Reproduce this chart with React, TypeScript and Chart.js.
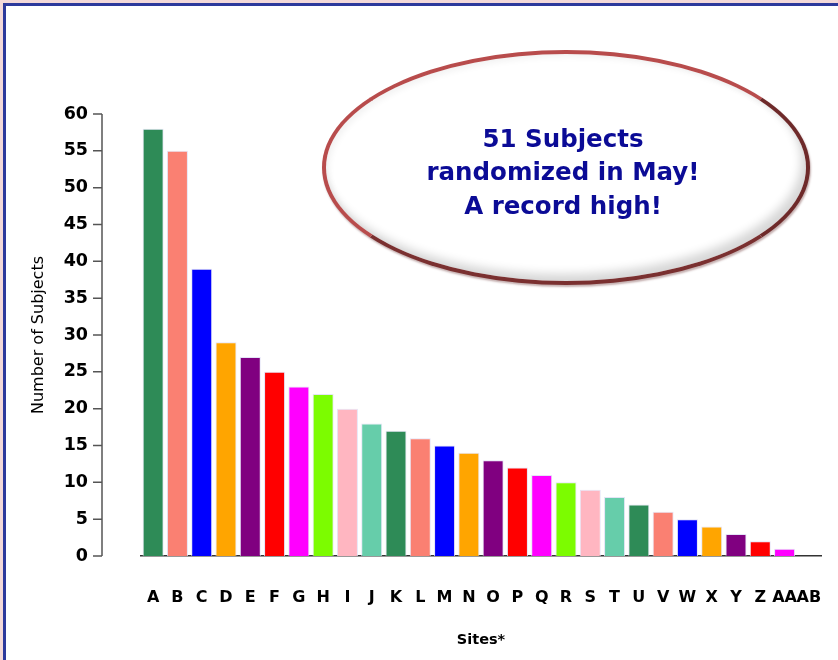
import React, { useEffect, useRef } from "react";
import { Chart, registerables } from "chart.js";

Chart.register(...registerables);

const sites = [
  "A", "B", "C", "D", "E", "F", "G", "H", "I", "J", "K", "L", "M", "N",
  "O", "P", "Q", "R", "S", "T", "U", "V", "W", "X", "Y", "Z", "AA", "AB",
];
const subjects = [
  58, 55, 39, 29, 27, 25, 23, 22, 20, 18, 17, 16, 15, 14,
  13, 12, 11, 10, 9, 8, 7, 6, 5, 4, 3, 2, 1, 0,
];
const palette = [
  "#2e8b57", "#fa8072", "#0000ff", "#ffa500", "#800080",
  "#ff0000", "#ff00ff", "#7cfc00", "#ffb6c1", "#66cdaa",
];
const yTickValues = [0, 5, 10, 15, 20, 25, 30, 35, 40, 45, 50, 55, 60];
const xTitle = "Sites*";
const yTitle = "Number of Subjects";
const calloutLines = ["51 Subjects", "randomized in May!", "A record high!"];

const FONT = "'DejaVu Sans', 'Liberation Sans', Arial, sans-serif";

const yAxisLinePlugin = {
  id: "yAxisLine",
  afterDraw(chart: any) {
    const ys = chart.scales.y;
    const ctx = chart.ctx;
    const axisX = chart.chartArea.left - 39;
    ctx.save();
    ctx.strokeStyle = "#555";
    ctx.lineWidth = 1.5;
    ctx.beginPath();
    ctx.moveTo(axisX, ys.getPixelForValue(yTickValues[yTickValues.length - 1]));
    ctx.lineTo(axisX, ys.getPixelForValue(yTickValues[0]));
    for (const v of yTickValues) {
      const py = ys.getPixelForValue(v);
      ctx.moveTo(axisX - 9, py);
      ctx.lineTo(axisX, py);
    }
    ctx.stroke();
    ctx.restore();
  },
};

export default function App() {
  const canvasRef = useRef<HTMLCanvasElement | null>(null);

  useEffect(() => {
    if (!canvasRef.current) return;
    const chart = new Chart(canvasRef.current, {
      type: "bar",
      data: {
        labels: sites,
        datasets: [
          {
            data: subjects,
            backgroundColor: subjects.map((_, i) => palette[i % palette.length]),
            borderColor: "rgba(225,225,245,0.9)",
            borderWidth: 1,
            barPercentage: 0.865,
            categoryPercentage: 1,
          },
        ],
      },
      options: {
        animation: false,
        responsive: false,
        layout: { padding: { left: 0, right: 17, top: 114, bottom: 0 } },
        plugins: {
          legend: { display: false },
          tooltip: { enabled: false },
        },
        scales: {
          x: {
            type: "category",
            offset: true,
            grid: {
              display: true,
              drawOnChartArea: false,
              drawTicks: true,
              tickLength: 30,
              color: "rgba(0,0,0,0)",
            },
            border: { display: true, color: "#333", width: 1.5 },
            ticks: {
              autoSkip: false,
              maxRotation: 0,
              minRotation: 0,
              padding: 2,
              color: "#000",
              font: { family: FONT, weight: "bold", size: 16 },
            },
            title: {
              display: true,
              text: xTitle,
              color: "#000",
              font: { family: FONT, weight: "bold", size: 14.5 },
              padding: { top: 0, bottom: 11 },
            },
            afterFit: (s: any) => {
              s.height = 104;
            },
          },
          y: {
            min: 0,
            max: 60,
            grid: { display: false, drawTicks: false },
            border: { display: false },
            ticks: {
              stepSize: 5,
              padding: 53,
              color: "#000",
              font: { family: FONT, weight: "bold", size: 17.5 },
            },
            title: {
              display: true,
              text: yTitle,
              color: "#000",
              font: { family: FONT, size: 16 },
              padding: { top: 29, bottom: 0 },
            },
            afterFit: (s: any) => {
              s.width = 141;
            },
          },
        },
      } as any,
      plugins: [yAxisLinePlugin],
    });
    return () => chart.destroy();
  }, []);

  return (
    <div
      style={{
        position: "absolute",
        left: 0,
        top: 0,
        width: 838,
        height: 660,
        overflow: "hidden",
        background: "#f3d9d9",
      }}
    >
      <div
        style={{
          position: "absolute",
          left: 3,
          top: 3,
          width: 860,
          height: 700,
          border: "3px solid #2d3a9c",
          background: "#ffffff",
        }}
      />
      <canvas
        ref={canvasRef}
        width={838}
        height={660}
        style={{ position: "absolute", left: 0, top: 0 }}
      />
      <div
        style={{
          position: "absolute",
          left: 322,
          top: 50,
          width: 488,
          height: 235,
          boxSizing: "border-box",
          borderRadius: "50%",
          border: "4px solid #b84c4c",
          borderRightColor: "#6e2a2a",
          borderBottomColor: "#7a3030",
          background: "#ffffff",
          boxShadow:
            "inset -5px -7px 10px rgba(0,0,0,0.16), inset 3px 3px 6px rgba(0,0,0,0.05), 1px 2px 2px rgba(90,30,30,0.35)",
          display: "flex",
          flexDirection: "column",
          alignItems: "center",
          justifyContent: "center",
          paddingTop: 9,
          paddingRight: 6,
          fontFamily: FONT,
          fontWeight: "bold",
          fontSize: 24.5,
          lineHeight: "33.5px",
          color: "#0b0b96",
          textAlign: "center",
        }}
      >
        {calloutLines.map((l) => (
          <div key={l}>{l}</div>
        ))}
      </div>
    </div>
  );
}
